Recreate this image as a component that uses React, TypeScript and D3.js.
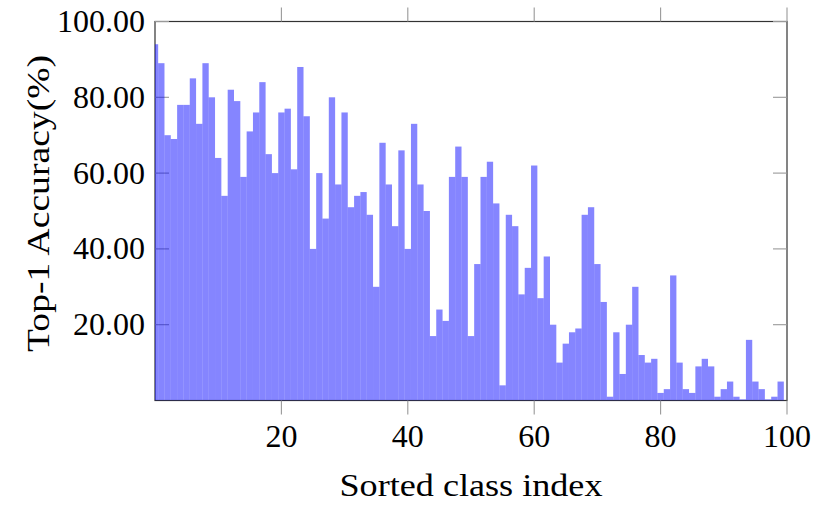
import React from 'react';
import * as d3 from 'd3';

// top-1 accuracy per class, sorted class index 0..99
const accuracy = [
  94, 89, 70, 69, 78, 78, 85, 73, 89, 80,
  64, 54, 82, 79, 59, 71, 76, 84, 65, 60,
  76, 77, 61, 88, 75, 40, 60, 48, 80, 57,
  76, 51, 54, 55, 49, 30, 68, 57, 46, 66,
  40, 73, 57, 50, 17, 24, 21, 59, 67, 59,
  17, 36, 59, 63, 52, 4, 49, 46, 28, 35,
  62, 27, 38, 20, 10, 15, 18, 19, 49, 51,
  36, 26, 1, 18, 7, 20, 30, 12, 10, 11,
  2, 3, 33, 10, 3, 2, 9, 11, 9, 1,
  3, 5, 1, 0.3, 16, 5, 3, 0.3, 1, 5,
];
const xTicks = [20, 40, 60, 80, 100];
const yTicks = [20, 40, 60, 80, 100];

const W = 823;
const H = 505;
const margin = { left: 155, right: 36, top: 21.5, bottom: 104.5 };
const font = '"Liberation Serif", "Times New Roman", serif';

export default function App() {
  const x = d3.scaleLinear().domain([0, 100]).range([margin.left, W - margin.right]);
  const y = d3.scaleLinear().domain([0, 100]).range([H - margin.bottom, margin.top]);
  const [x0, x1] = x.range();
  const [yb, yt] = y.range();
  const bw = x(1) - x(0);
  const tickLen = 14;

  return (
    <svg width={W} height={H} style={{ position: 'absolute', left: 0, top: 0, background: '#fff' }}>
      <defs>
        <clipPath id="plotClip">
          <rect x={x0} y={yt} width={x1 - x0} height={yb - yt} />
        </clipPath>
      </defs>

      {/* frame */}
      <rect x={x0} y={yt} width={x1 - x0} height={yb - yt} fill="none" stroke="#333" strokeWidth={1.2} />

      {/* x ticks, outside top and bottom */}
      {xTicks.map(t => (
        <g key={'xt' + t} stroke="#999" strokeWidth={1.1}>
          <line x1={x(t)} x2={x(t)} y1={yt} y2={yt - tickLen} />
          <line x1={x(t)} x2={x(t)} y1={yb} y2={yb + tickLen} />
        </g>
      ))}

      {/* y ticks, inside left and right */}
      {yTicks.map(t => (
        <g key={'yt' + t} stroke="#999" strokeWidth={1.1}>
          <line x1={x0} x2={x0 + tickLen} y1={y(t)} y2={y(t)} />
          <line x1={x1} x2={x1 - tickLen} y1={y(t)} y2={y(t)} />
        </g>
      ))}

      {/* bars */}
      <g clipPath="url(#plotClip)">
        {accuracy.map((v, i) => (
          <rect
            key={i}
            x={x(i - 0.5)}
            y={y(v)}
            width={bw}
            height={yb - y(v)}
            fill="blue"
            fillOpacity={0.48}
          />
        ))}
      </g>

      {/* tick labels */}
      <g fontFamily={font} fontSize={32} fill="#000">
        {xTicks.map(t => (
          <text key={'xl' + t} x={x(t)} y={447} textAnchor="middle">{t}</text>
        ))}
        {yTicks.map(t => (
          <text key={'yl' + t} x={145} y={y(t) + 10.5} textAnchor="end">{t.toFixed(2)}</text>
        ))}
      </g>

      {/* axis titles */}
      <text x={(x0 + x1) / 2} y={496} textAnchor="middle" fontFamily={font} fontSize={31}
        textLength={263} lengthAdjust="spacingAndGlyphs">Sorted class index</text>
      <text transform={`translate(49,${(55 + 352) / 2}) rotate(-90)`} textAnchor="middle" fontFamily={font} fontSize={31}
        textLength={297} lengthAdjust="spacingAndGlyphs">Top-1 Accuracy(%)</text>
    </svg>
  );
}
